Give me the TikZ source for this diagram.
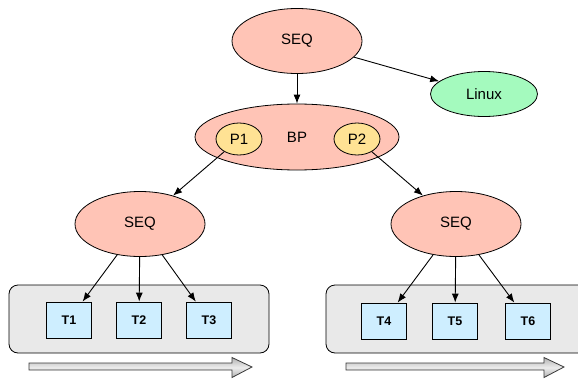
\documentclass[tikz,border=0pt]{standalone}
\usepackage{fontspec}
\setmainfont{Liberation Sans}
\usetikzlibrary{arrows.meta,shapes.geometric}
\definecolor{seqred}{RGB}{255,196,182}
\definecolor{linuxgreen}{RGB}{164,250,190}
\definecolor{pyellow}{RGB}{255,226,148}
\definecolor{tblue}{RGB}{206,238,255}
\definecolor{grpgray}{RGB}{233,233,233}

\begin{document}
\begin{tikzpicture}[x=1pt,y=-1pt,font=\fontsize{15}{17}\selectfont,
  el/.style={ellipse,draw,line width=0.8pt,inner sep=0pt},
  seq/.style={el,fill=seqred,minimum width=130pt,minimum height=65pt},
  bpbox/.style={el,fill=seqred,minimum width=204pt,minimum height=66pt},
  proc/.style={el,fill=pyellow,minimum width=46pt,minimum height=32pt},
  linux/.style={el,fill=linuxgreen,minimum width=107pt,minimum height=45pt},
  task/.style={draw,line width=0.8pt,fill=tblue,minimum width=45pt,minimum height=36pt,inner sep=0pt,font=\fontsize{12.5}{14}\selectfont\bfseries},
  grp/.style={draw,line width=0.8pt,fill=grpgray,rounded corners=9pt,inner sep=0pt},
  arr/.style={line width=0.9pt,-{Latex[length=9pt,width=7pt]}},
  flow/.style={draw=gray!45!black,line width=0.8pt,top color=gray!60,bottom color=gray!60,middle color=gray!15}]
\clip (0,0) rectangle (578,380);
% ---- thread groups ----
\node[grp,minimum width=260pt,minimum height=68pt] (grpL) at (139,319) {};
\node[grp,minimum width=262pt,minimum height=68pt] (grpR) at (457,319) {};
% ---- tree ----
\node[seq]   (seq0)  at (297,41)  {SEQ};
\node[linux] (linux) at (484,94)  {Linux};
\node[bpbox] (bp)    at (297,137) {BP};
\node[proc]  (p1)    at (239,139) {P1};
\node[proc]  (p2)    at (357,139) {P2};
\node[seq]   (seq1)  at (140,224) {SEQ};
\node[seq]   (seq2)  at (456,224) {SEQ};
% ---- tasks ----
\node[task] (t1) at (69,320)  {T1};
\node[task] (t2) at (139,320) {T2};
\node[task] (t3) at (209,320) {T3};
\node[task] (t4) at (384,321) {T4};
\node[task] (t5) at (455,321) {T5};
\node[task] (t6) at (528,321) {T6};
% ---- connectors ----
\draw[arr] (seq0) -- (bp);
\draw[arr] (seq0) -- (linux);
\draw[arr] (p1) -- (seq1);
\draw[arr] (p2) -- (seq2);
\foreach \t in {t1,t2,t3} \draw[arr] (seq1) -- (\t);
\foreach \t in {t4,t5,t6} \draw[arr] (seq2) -- (\t);
% ---- time arrows ----
\foreach \xa/\xb in {29/232, 346/544}
  \path[flow] (\xa,363) -- (\xb,363) -- (\xb,357.5) -- (\xb+20,367) -- (\xb,377.5) -- (\xb,370) -- (\xa,370) -- cycle;
\end{tikzpicture}
\end{document}
